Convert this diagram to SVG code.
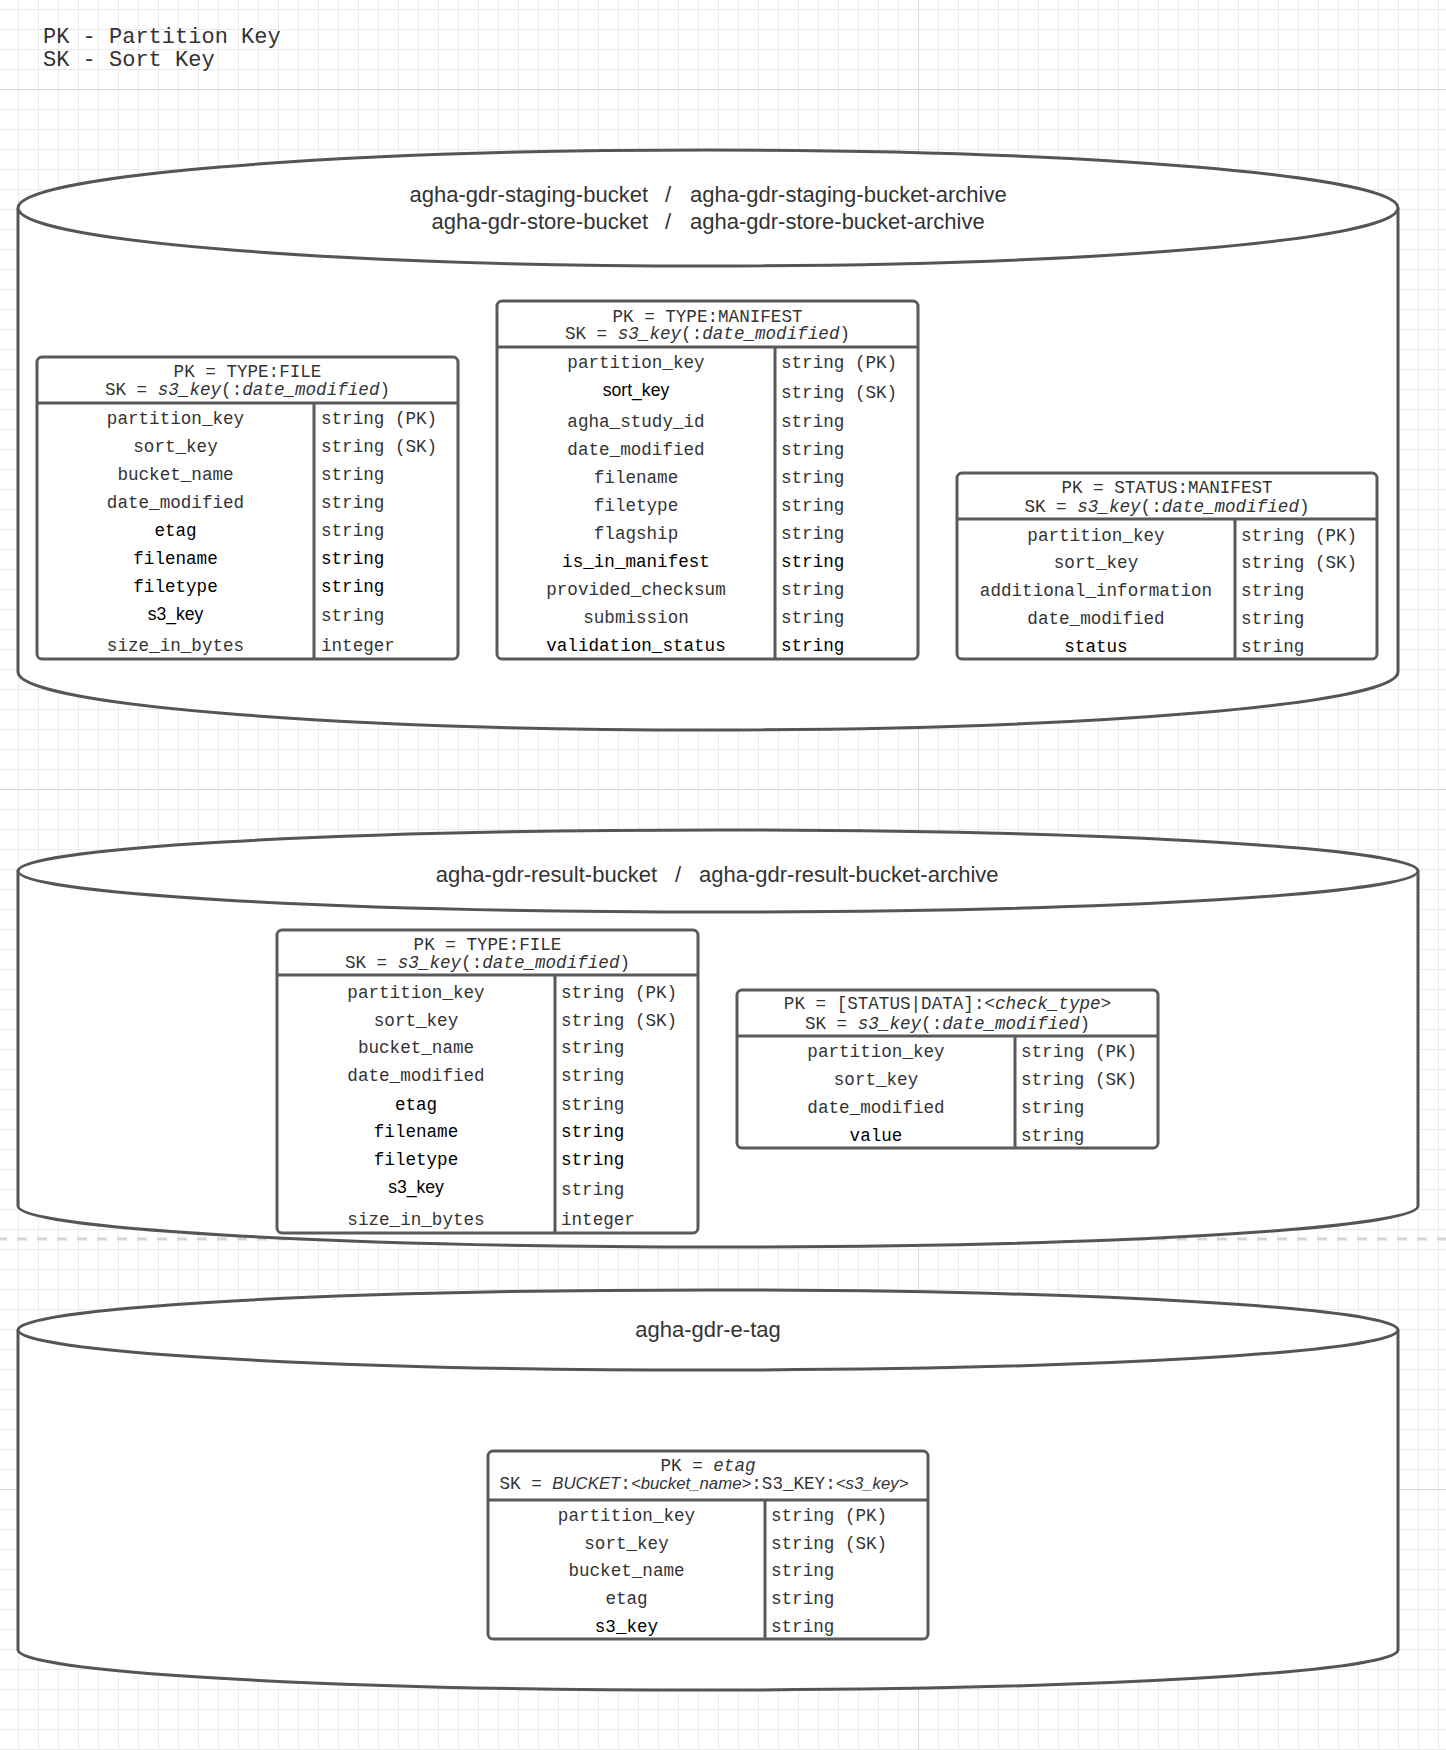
<svg xmlns="http://www.w3.org/2000/svg" width="1446" height="1750" viewBox="0 0 1446 1750">
<defs>
<pattern id="grid" x="18" y="9" width="20" height="20" patternUnits="userSpaceOnUse">
<path d="M0 0.5H20M0.5 0V20" fill="none" stroke="#ebebeb" stroke-width="1"/>
</pattern>
</defs>
<style>
.cyl{fill:#fff;stroke:#555;stroke-width:3}
.tbl{fill:#fff;stroke:#5a5a5a;stroke-width:3}
.ln{stroke:#5a5a5a;stroke-width:3}
.m{font-family:"Liberation Mono","DejaVu Sans Mono",monospace;font-size:17.6px;fill:#333}
.k{fill:#000}
.s{font-family:"Liberation Sans",Arial,sans-serif}
.i{font-style:italic}
.c{text-anchor:middle}
.title{font-family:"Liberation Sans",Arial,sans-serif;font-size:22px;fill:#333}
.legend{font-family:"Liberation Mono","DejaVu Sans Mono",monospace;font-size:22px;fill:#333}
.major{stroke:#d9d9d9;stroke-width:1}
</style>
<rect width="1446" height="1750" fill="#fff"/>
<rect width="1446" height="1750" fill="url(#grid)"/>
<path class="major" d="M918.5 0V1750M0 89.5H1446M0 789.5H1446M0 1489.5H1446"/>
<path d="M0 1239H1446" stroke="#d6d6d6" stroke-width="3" stroke-dasharray="10 10" stroke-dashoffset="3"/>

<g id="legend">
<text class="legend" x="43" y="43">PK - Partition Key</text>
<text class="legend" x="43" y="66">SK - Sort Key</text>
</g>

<g id="connectors"/>

<g id="cylinder-staging">
<path class="cyl" d="M18 208A690 58 0 0 1 1398 208L1398 672A690 58 0 0 1 18 672Z"/>
<path class="cyl" fill="none" d="M18 208A690 58 0 0 0 1398 208"/>
<text class="title" x="648" y="202" text-anchor="end">agha-gdr-staging-bucket</text>
<text class="title" x="668" y="202" text-anchor="middle">/</text>
<text class="title" x="690" y="202">agha-gdr-staging-bucket-archive</text>
<text class="title" x="648" y="229" text-anchor="end">agha-gdr-store-bucket</text>
<text class="title" x="668" y="229" text-anchor="middle">/</text>
<text class="title" x="690" y="229">agha-gdr-store-bucket-archive</text>
</g>

<g id="table-staging-file">
<rect class="tbl" x="37" y="357" width="421" height="302" rx="5"/>
<path class="ln" d="M37 403H458M314 403V659"/>
<text class="m c" x="247.5" y="377">PK = TYPE:FILE</text>
<text class="m c" x="247.5" y="395">SK = <tspan class="i">s3_key</tspan>(:<tspan class="i">date_modified</tspan>)</text>
<text class="m c" x="175.5" y="424">partition_key</text><text class="m" x="321" y="424">string (PK)</text>
<text class="m c" x="175.5" y="452">sort_key</text><text class="m" x="321" y="452">string (SK)</text>
<text class="m c" x="175.5" y="480">bucket_name</text><text class="m" x="321" y="480">string</text>
<text class="m c" x="175.5" y="508">date_modified</text><text class="m" x="321" y="508">string</text>
<text class="m c k" x="175.5" y="536">etag</text><text class="m" x="321" y="536">string</text>
<text class="m c k" x="175.5" y="564">filename</text><text class="m k" x="321" y="564">string</text>
<text class="m c k" x="175.5" y="592">filetype</text><text class="m k" x="321" y="592">string</text>
<text class="m s c k" x="175.5" y="620">s3_key</text><text class="m" x="321" y="621">string</text>
<text class="m c" x="175.5" y="651">size_in_bytes</text><text class="m" x="321" y="651">integer</text>
</g>

<g id="table-staging-manifest">
<rect class="tbl" x="497" y="301" width="421" height="358" rx="5"/>
<path class="ln" d="M497 347H918M775 347V659"/>
<text class="m c" x="707.5" y="322">PK = TYPE:MANIFEST</text>
<text class="m c" x="707.5" y="339">SK = <tspan class="i">s3_key</tspan>(:<tspan class="i">date_modified</tspan>)</text>
<text class="m c" x="636" y="368">partition_key</text><text class="m" x="781" y="368">string (PK)</text>
<text class="m s c k" x="636" y="396">sort_key</text><text class="m" x="781" y="398">string (SK)</text>
<text class="m c" x="636" y="427">agha_study_id</text><text class="m" x="781" y="427">string</text>
<text class="m c" x="636" y="455">date_modified</text><text class="m" x="781" y="455">string</text>
<text class="m c" x="636" y="483">filename</text><text class="m" x="781" y="483">string</text>
<text class="m c" x="636" y="511">filetype</text><text class="m" x="781" y="511">string</text>
<text class="m c" x="636" y="539">flagship</text><text class="m" x="781" y="539">string</text>
<text class="m c k" x="636" y="567">is_in_manifest</text><text class="m k" x="781" y="567">string</text>
<text class="m c" x="636" y="595">provided_checksum</text><text class="m" x="781" y="595">string</text>
<text class="m c" x="636" y="623">submission</text><text class="m" x="781" y="623">string</text>
<text class="m c k" x="636" y="651">validation_status</text><text class="m k" x="781" y="651">string</text>
</g>

<g id="table-staging-status">
<rect class="tbl" x="957" y="473" width="420" height="186" rx="5"/>
<path class="ln" d="M957 519H1377M1235 519V659"/>
<text class="m c" x="1167" y="493">PK = STATUS:MANIFEST</text>
<text class="m c" x="1167" y="511.5">SK = <tspan class="i">s3_key</tspan>(:<tspan class="i">date_modified</tspan>)</text>
<text class="m c" x="1096" y="540.5">partition_key</text><text class="m" x="1241" y="540.5">string (PK)</text>
<text class="m c" x="1096" y="568">sort_key</text><text class="m" x="1241" y="568">string (SK)</text>
<text class="m c" x="1096" y="596">additional_information</text><text class="m" x="1241" y="596">string</text>
<text class="m c" x="1096" y="624">date_modified</text><text class="m" x="1241" y="624">string</text>
<text class="m c k" x="1096" y="651.5">status</text><text class="m" x="1241" y="651.5">string</text>
</g>

<g id="cylinder-result">
<path class="cyl" d="M18 871A700 41 0 0 1 1418 871L1418 1206A700 41 0 0 1 18 1206Z"/>
<path class="cyl" fill="none" d="M18 871A700 41 0 0 0 1418 871"/>
<text class="title" x="657" y="882" text-anchor="end">agha-gdr-result-bucket</text>
<text class="title" x="678" y="882" text-anchor="middle">/</text>
<text class="title" x="699" y="882">agha-gdr-result-bucket-archive</text>
</g>

<g id="table-result-file">
<rect class="tbl" x="277" y="930" width="421" height="303" rx="5"/>
<path class="ln" d="M277 975H698M555 975V1233"/>
<text class="m c" x="487.5" y="950">PK = TYPE:FILE</text>
<text class="m c" x="487.5" y="968">SK = <tspan class="i">s3_key</tspan>(:<tspan class="i">date_modified</tspan>)</text>
<text class="m c" x="416" y="997.5">partition_key</text><text class="m" x="561" y="997.5">string (PK)</text>
<text class="m c" x="416" y="1025.5">sort_key</text><text class="m" x="561" y="1025.5">string (SK)</text>
<text class="m c" x="416" y="1053">bucket_name</text><text class="m" x="561" y="1053">string</text>
<text class="m c" x="416" y="1081">date_modified</text><text class="m" x="561" y="1081">string</text>
<text class="m c k" x="416" y="1109.5">etag</text><text class="m" x="561" y="1109.5">string</text>
<text class="m c k" x="416" y="1137">filename</text><text class="m k" x="561" y="1137">string</text>
<text class="m c k" x="416" y="1165">filetype</text><text class="m k" x="561" y="1165">string</text>
<text class="m s c k" x="416" y="1193">s3_key</text><text class="m" x="561" y="1195">string</text>
<text class="m c" x="416" y="1225">size_in_bytes</text><text class="m" x="561" y="1225">integer</text>
</g>

<g id="table-result-status">
<rect class="tbl" x="737" y="990" width="421" height="158" rx="5"/>
<path class="ln" d="M737 1036H1158M1015 1036V1148"/>
<text class="m c" x="947.5" y="1009">PK = [STATUS|DATA]:<tspan class="i">&lt;check_type&gt;</tspan></text>
<text class="m c" x="947.5" y="1029">SK = <tspan class="i">s3_key</tspan>(:<tspan class="i">date_modified</tspan>)</text>
<text class="m c" x="876" y="1057">partition_key</text><text class="m" x="1021" y="1057">string (PK)</text>
<text class="m c" x="876" y="1085">sort_key</text><text class="m" x="1021" y="1085">string (SK)</text>
<text class="m c" x="876" y="1113">date_modified</text><text class="m" x="1021" y="1113">string</text>
<text class="m c k" x="876" y="1140.5">value</text><text class="m" x="1021" y="1140.5">string</text>
</g>

<g id="cylinder-etag">
<path class="cyl" d="M18 1330A690 40 0 0 1 1398 1330L1398 1650A690 40 0 0 1 18 1650Z"/>
<path class="cyl" fill="none" d="M18 1330A690 40 0 0 0 1398 1330"/>
<text class="title" x="708" y="1337" text-anchor="middle">agha-gdr-e-tag</text>
</g>

<g id="table-etag">
<rect class="tbl" x="488" y="1451" width="440" height="188" rx="5"/>
<path class="ln" d="M488 1500H928M765 1500V1639"/>
<text class="m c" x="708" y="1470.5">PK = <tspan class="i">etag</tspan></text>
<text class="m c" x="704" y="1488.5">SK = <tspan class="s i" font-size="16.8">BUCKET</tspan>:<tspan class="s i" font-size="16.8">&lt;bucket_name&gt;</tspan>:S3_KEY:<tspan class="s i" font-size="16.8">&lt;s3_key&gt;</tspan></text>
<text class="m c" x="626.5" y="1520.5">partition_key</text><text class="m" x="771" y="1520.5">string (PK)</text>
<text class="m c" x="626.5" y="1548.5">sort_key</text><text class="m" x="771" y="1548.5">string (SK)</text>
<text class="m c" x="626.5" y="1576">bucket_name</text><text class="m" x="771" y="1576">string</text>
<text class="m c" x="626.5" y="1604">etag</text><text class="m" x="771" y="1604">string</text>
<text class="m c k" x="626.5" y="1632">s3_key</text><text class="m" x="771" y="1632">string</text>
</g>
</svg>
